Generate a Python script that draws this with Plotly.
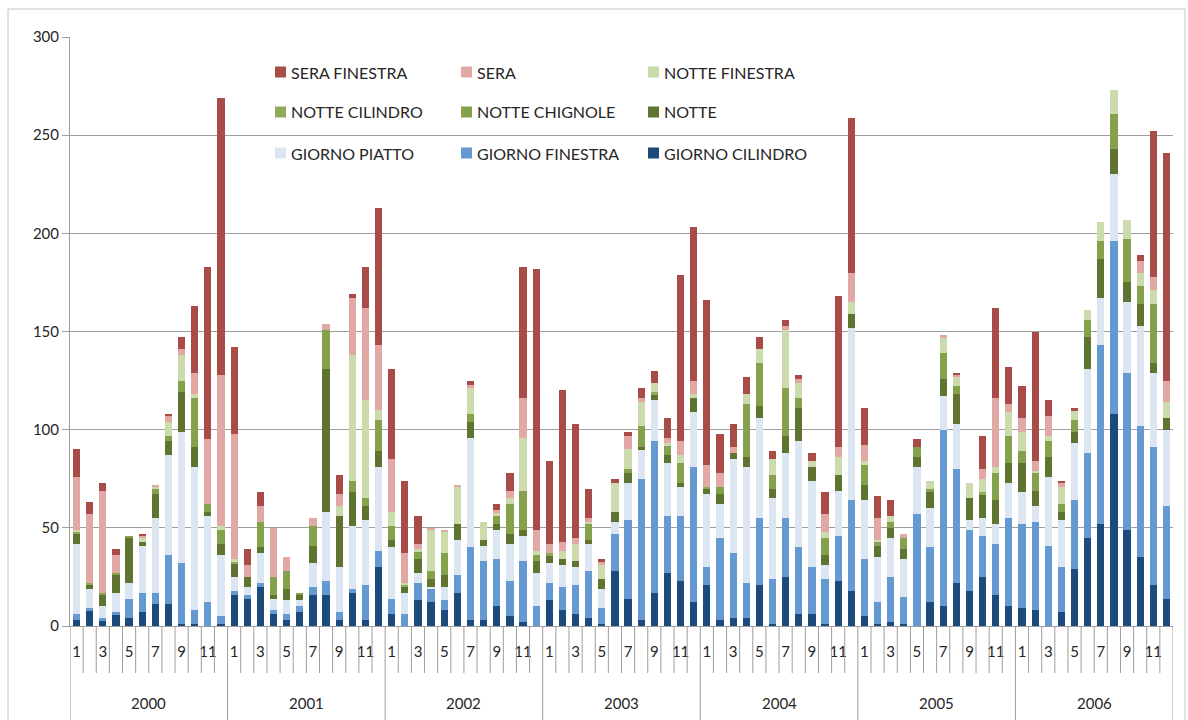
import plotly.graph_objects as go

# ---- data -------------------------------------------------------------
years = ["2000", "2001", "2002", "2003", "2004", "2005", "2006"]
months = [1, 2, 3, 4, 5, 6, 7, 8, 9, 10, 11, 12]
month_tick_labels = ["1", "3", "5", "7", "9", "11"]

giorno_cilindro = [
    3, 8, 3, 6, 4, 7, 11, 11, 1, 1, 0, 1,
    16, 14, 20, 6, 3, 7, 16, 16, 3, 17, 3, 30,
    6, 0, 13, 12, 8, 17, 3, 3, 10, 5, 2, 0,
    13, 8, 6, 4, 1, 28, 14, 3, 17, 27, 23, 12,
    21, 3, 4, 4, 21, 1, 25, 6, 6, 1, 23, 18,
    5, 1, 2, 1, 0, 12, 10, 22, 18, 25, 16, 10,
    9, 8, 0, 7, 29, 45, 52, 108, 49, 35, 21, 14,
]
giorno_finestra = [
    3, 1, 1, 1, 10, 10, 6, 25, 31, 7, 12, 4,
    2, 2, 2, 2, 3, 3, 4, 7, 4, 2, 18, 8,
    8, 6, 9, 7, 5, 9, 37, 30, 24, 18, 31, 10,
    9, 12, 15, 24, 8, 19, 40, 72, 77, 29, 33, 69,
    9, 42, 33, 18, 34, 23, 30, 34, 24, 23, 23, 46,
    29, 11, 23, 14, 57, 28, 90, 58, 31, 21, 26, 45,
    43, 45, 41, 23, 35, 43, 91, 88, 80, 67, 70, 47,
]
giorno_piatto = [
    36, 10, 6, 10, 8, 24, 38, 51, 67, 73, 44, 31,
    7, 4, 15, 6, 7, 3, 12, 35, 23, 32, 33, 43,
    26, 11, 5, 1, 7, 18, 56, 8, 15, 19, 13, 17,
    10, 11, 9, 14, 10, 6, 19, 15, 21, 27, 15, 28,
    37, 17, 48, 59, 51, 41, 33, 54, 44, 7, 23, 88,
    30, 23, 20, 19, 24, 20, 17, 23, 5, 9, 10, 18,
    16, 8, 35, 24, 29, 43, 24, 34, 36, 51, 38, 39,
]
notte = [
    5, 2, 6, 9, 23, 2, 12, 7, 20, 10, 2, 6,
    7, 5, 3, 2, 6, 3, 9, 73, 26, 17, 7, 8,
    4, 3, 7, 4, 6, 8, 8, 3, 3, 5, 3, 6,
    4, 3, 3, 2, 5, 5, 5, 1, 3, 4, 2, 7,
    3, 5, 3, 5, 6, 5, 9, 17, 7, 5, 8, 7,
    8, 6, 5, 5, 5, 8, 9, 15, 11, 12, 12, 10,
    15, 8, 10, 4, 6, 16, 20, 13, 10, 11, 5, 6,
]
notte_chignole = [
    0, 0, 1, 1, 1, 0, 3, 3, 6, 25, 4, 7,
    0, 0, 13, 9, 9, 1, 10, 20, 0, 6, 4, 16,
    7, 0, 4, 4, 11, 0, 4, 0, 4, 15, 20, 3,
    0, 0, 0, 8, 0, 0, 2, 11, 0, 5, 10, 0,
    0, 4, 0, 27, 22, 7, 24, 5, 0, 9, 0, 0,
    10, 2, 3, 6, 5, 2, 13, 4, 0, 0, 14, 14,
    6, 9, 8, 4, 6, 9, 9, 18, 22, 9, 30, 0,
]
notte_cilindro = [
    1, 1, 0, 0, 0, 0, 0, 0, 0, 0, 0, 0,
    1, 0, 0, 0, 0, 0, 0, 0, 0, 0, 0, 0,
    0, 1, 0, 0, 0, 0, 0, 0, 0, 0, 0, 0,
    1, 0, 0, 0, 0, 0, 0, 0, 1, 0, 0, 0,
    1, 0, 0, 0, 0, 0, 0, 0, 0, 0, 0, 0,
    0, 0, 0, 0, 0, 0, 0, 0, 0, 1, 0, 0,
    0, 0, 0, 0, 0, 0, 0, 0, 0, 0, 0, 0,
]
notte_finestra = [
    1, 0, 0, 0, 0, 2, 1, 7, 13, 2, 0, 2,
    1, 0, 0, 0, 0, 0, 0, 0, 5, 64, 50, 5,
    7, 1, 1, 21, 11, 19, 13, 9, 2, 3, 27, 2,
    0, 4, 9, 1, 7, 15, 10, 12, 5, 1, 4, 2,
    0, 0, 0, 5, 7, 8, 30, 8, 3, 3, 9, 6,
    2, 1, 3, 0, 0, 4, 8, 5, 8, 7, 3, 12,
    10, 1, 3, 9, 5, 5, 10, 12, 10, 7, 7, 8,
]
sera = [
    27, 35, 52, 9, 0, 1, 1, 3, 3, 11, 33, 77,
    64, 6, 8, 25, 7, 0, 4, 3, 6, 29, 47, 33,
    27, 15, 3, 1, 1, 1, 2, 0, 1, 4, 20, 11,
    5, 5, 3, 2, 2, 0, 7, 2, 0, 3, 7, 7,
    11, 7, 3, 0, 0, 0, 2, 2, 0, 9, 5, 15,
    8, 11, 0, 2, 0, 0, 1, 1, 0, 5, 35, 4,
    7, 5, 10, 2, 0, 0, 0, 0, 0, 6, 7, 11,
]
sera_finestra = [
    14, 6, 4, 3, 0, 1, 0, 1, 6, 34, 88, 141,
    44, 8, 7, 0, 0, 0, 0, 0, 10, 2, 21, 70,
    46, 37, 14, 0, 0, 0, 2, 0, 3, 9, 67, 133,
    42, 77, 58, 15, 1, 2, 2, 5, 6, 10, 85, 78,
    84, 20, 12, 9, 6, 4, 3, 2, 4, 11, 77, 79,
    19, 11, 8, 0, 4, 0, 0, 1, 0, 17, 46, 19,
    16, 66, 8, 1, 1, 0, 0, 0, 0, 3, 74, 116,
]

# stacking order, bottom to top
series = [
    ("GIORNO CILINDRO", giorno_cilindro, "#1C4A7A"),
    ("GIORNO FINESTRA", giorno_finestra, "#6499D1"),
    ("GIORNO PIATTO", giorno_piatto, "#DCE6F2"),
    ("NOTTE", notte, "#5F7431"),
    ("NOTTE CHIGNOLE", notte_chignole, "#86A14C"),
    ("NOTTE CILINDRO", notte_cilindro, "#8FAB57"),
    ("NOTTE FINESTRA", notte_finestra, "#CBDBAB"),
    ("SERA", sera, "#E1A8A6"),
    ("SERA FINESTRA", sera_finestra, "#A94B47"),
]
colors = {name: col for name, _, col in series}

# legend grid, read row by row
legend_rows = [
    ["SERA FINESTRA", "SERA", "NOTTE FINESTRA"],
    ["NOTTE CILINDRO", "NOTTE CHIGNOLE", "NOTTE"],
    ["GIORNO PIATTO", "GIORNO FINESTRA", "GIORNO CILINDRO"],
]

# ---- geometry (pixels of a 1188 x 720 page) ---------------------------
W, H = 1188, 720
L, R, T, B = 70, 15, 37, 94
PW, PH = W - L - R, H - T - B
FONT = "Lato"
TXT = "#262626"
GRID = "#9E9E9E"


def px(x):
    return (x - L) / PW


def py(y):
    return (H - B - y) / PH


n = len(years) * len(months)
xs = list(range(n))
year_of = [y for y in years for _ in months]
month_of = [m for _ in years for m in months]

fig = go.Figure()
for name, vals, col in series:
    fig.add_trace(go.Bar(
        x=xs, y=vals, name=name,
        marker=dict(color=col, line=dict(width=0)),
        customdata=list(zip(year_of, month_of)),
        hovertemplate="%{customdata[0]}-%{customdata[1]}<br>" + name + ": %{y}<extra></extra>",
        showlegend=False,
    ))

tickvals = [i for i in xs if str(month_of[i]) in month_tick_labels]
ticktext = [str(month_of[i]) for i in tickvals]

shapes = []
# outer chart frame
shapes.append(dict(type="rect", xref="paper", yref="paper",
                   x0=px(8), x1=px(1185), y0=py(740), y1=py(9),
                   line=dict(color="#C4C4C4", width=1), layer="below"))
# category table: month cells and year cells
for i in range(n + 1):
    xb = i - 0.5
    is_year = (i % len(months) == 0)
    shapes.append(dict(type="line", xref="x", yref="paper",
                       x0=xb, x1=xb, y0=0, y1=py(720 if is_year else 673),
                       line=dict(color=GRID, width=1)))
# white backing behind the legend block
shapes.append(dict(type="rect", xref="paper", yref="paper",
                   x0=px(255), x1=px(815), y0=py(172), y1=py(50),
                   fillcolor="white", line=dict(width=0), layer="between"))

annotations = []
for k, yr in enumerate(years):
    annotations.append(dict(x=k * len(months) + (len(months) - 1) / 2, y=py(703),
                            xref="x", yref="paper", text=yr, showarrow=False,
                            font=dict(family=FONT, size=15, color=TXT),
                            xanchor="center", yanchor="middle"))

sq_x = [275, 461, 648]
tx_x = [289, 475, 662]
row_y = [72, 112, 153]
sq = 11
for r, row in enumerate(legend_rows):
    for c, name in enumerate(row):
        yc = row_y[r]
        shapes.append(dict(type="rect", xref="paper", yref="paper",
                           x0=px(sq_x[c]), x1=px(sq_x[c] + sq),
                           y0=py(yc + sq / 2), y1=py(yc - sq / 2),
                           fillcolor=colors[name], line=dict(width=0), layer="above"))
        annotations.append(dict(x=px(tx_x[c]), y=py(yc), xref="paper", yref="paper",
                                text=name, showarrow=False, xanchor="left", yanchor="middle",
                                font=dict(family=FONT, size=16, color=TXT)))

fig.update_layout(
    width=W, height=H,
    margin=dict(l=L, r=R, t=T, b=B, pad=0),
    barmode="stack", bargap=0.45,
    paper_bgcolor="white", plot_bgcolor="white",
    font=dict(family=FONT, size=15, color=TXT),
    shapes=shapes, annotations=annotations,
    showlegend=False,
)
fig.update_xaxes(
    range=[-0.5, n - 0.5], tickmode="array", tickvals=tickvals, ticktext=ticktext,
    ticks="", showgrid=False, zeroline=False, showline=True, linecolor=GRID, linewidth=1,
    tickfont=dict(family=FONT, size=15, color=TXT), ticklabelstandoff=12,
)
fig.update_yaxes(
    range=[0, 300], dtick=50, showgrid=True, gridcolor=GRID, gridwidth=1,
    zeroline=False, showline=True, linecolor=GRID, linewidth=1,
    ticks="outside", ticklen=7, tickcolor=GRID,
    tickfont=dict(family=FONT, size=15, color=TXT),
)

fig.write_html("out.html")
